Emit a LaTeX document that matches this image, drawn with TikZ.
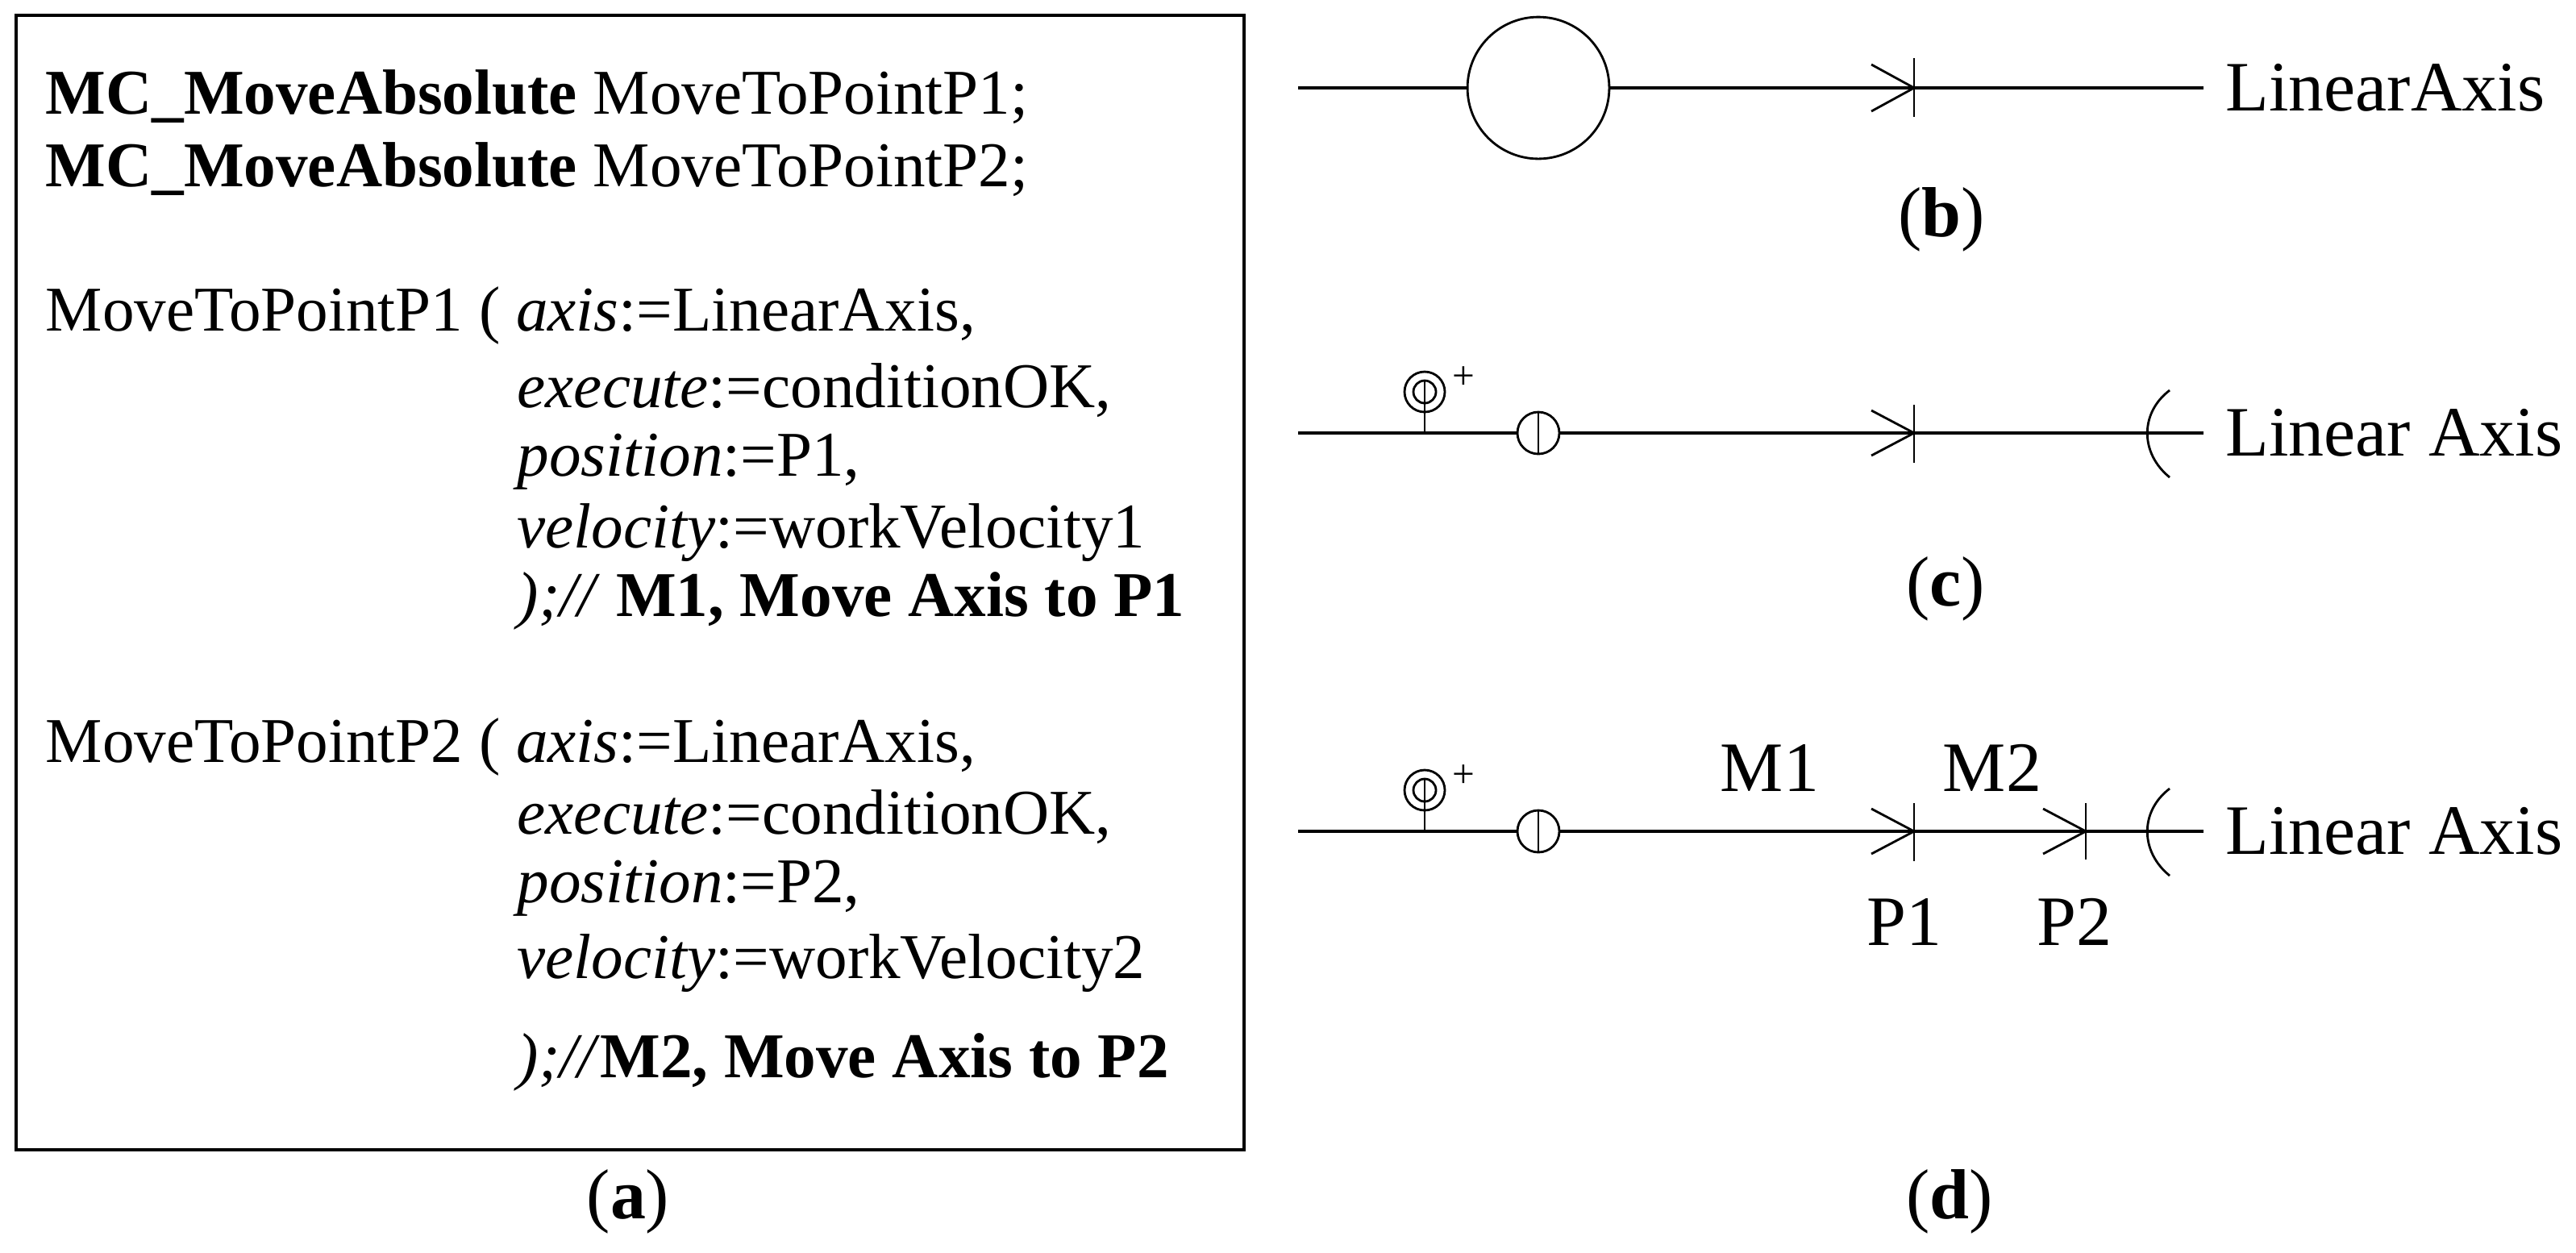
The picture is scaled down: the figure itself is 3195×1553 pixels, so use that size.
\documentclass[tikz,border=0pt]{standalone}
\usepackage{fontspec}
\setmainfont{Liberation Serif}
\begin{document}
\begin{tikzpicture}[x=0.01cm,y=-0.01cm,
  code/.style={anchor=base west,inner sep=0pt,font=\fontsize{22.5}{26}\selectfont},
  big/.style={inner sep=0pt,font=\fontsize{25}{30}\selectfont},
  axisln/.style={line width=1.4pt},
  thin/.style={line width=0.5pt},
  sym/.style={line width=0.8pt}]
\useasboundingbox (0,0) rectangle (3195,1553);
% (a)
\draw[line width=1.2pt] (20,19) rectangle (1543,1426);
\node[code] (l1) at (56,141) {\textbf{MC\_MoveAbsolute} MoveToPointP1;};
\node[code] (l2) at (56,231) {\textbf{MC\_MoveAbsolute} MoveToPointP2;};
\node[code] (l3) at (56,410) {MoveToPointP1 ( \textit{axis}:=LinearAxis,};
\node[code] (l4) at (641,505) {\textit{execute}:=conditionOK,};
\node[code] (l5) at (641,590) {\textit{position}:=P1,};
\node[code] (l6) at (641,679) {\textit{velocity}:=workVelocity1};
\node[code] (l7) at (641,764) {\textit{);//} \textbf{M1, Move Axis to P1}};
\node[code] (l8) at (56,945) {MoveToPointP2 ( \textit{axis}:=LinearAxis,};
\node[code] (l9) at (641,1034) {\textit{execute}:=conditionOK,};
\node[code] (l10) at (641,1119) {\textit{position}:=P2,};
\node[code] (l11) at (641,1213) {\textit{velocity}:=workVelocity2};
\node[code] (l12) at (641,1336) {\textit{);//}\textbf{M2, Move Axis to P2}};
\node[big] (la) at (779,1490) {(\textbf{a})};
% (b)
\coordinate (b0) at (1610,109); \coordinate (b1) at (2733,109);
\draw[axisln] (b0) -- (b1);
\node[sym,draw,circle,fill=white,minimum size=50,inner sep=0pt] (bc) at (1908,109) {};
\draw[sym] (2321,80) -- (2374,109) -- (2321,138);
\draw[thin] (2374,72) -- (2374,145);
\node[big,anchor=base west] (bt) at (2760,137) {LinearAxis};
\node[big] (lb) at (2408,272) {(\textbf{b})};
% (c) and (d)
\foreach \y/\n in {537/c,1031/d}{
  \draw[axisln] (1610,\y) -- (2733,\y);
  \draw[thin] (1767,\y) -- (1767,\y-66);
  \draw[sym] (1767,\y-51) circle (25);
  \draw[sym] (1767,\y-51) circle (14);
  \node[inner sep=0pt,font=\fontsize{14}{14}\selectfont] at (1815,\y-68) {+};
  \draw[sym,fill=white] (1908,\y) circle (26);
  \draw[thin] (1908,\y-26) -- (1908,\y+26);
  \draw[sym] (2321,\y-28) -- (2374,\y) -- (2321,\y+28);
  \draw[thin] (2374,\y-35) -- (2374,\y+37);
  \draw[sym] (2691,\y-53) .. controls (2654,\y-25) and (2654,\y+25) .. (2691,\y+55);
  \node[big,anchor=base west] at (2760,\y+28) {Linear Axis};
}
\node[big] (lc) at (2413,730) {(\textbf{c})};
\draw[sym] (2534,1003) -- (2587,1031) -- (2534,1059);
\draw[thin] (2587,996) -- (2587,1066);
\node[big,anchor=base] (m1) at (2195,981) {M1};
\node[big,anchor=base] (m2) at (2471,981) {M2};
\node[big,anchor=base] (p1) at (2362,1172) {P1};
\node[big,anchor=base] (p2) at (2573,1172) {P2};
\node[big] (ld) at (2418,1490) {(\textbf{d})};
\end{tikzpicture}
\end{document}
